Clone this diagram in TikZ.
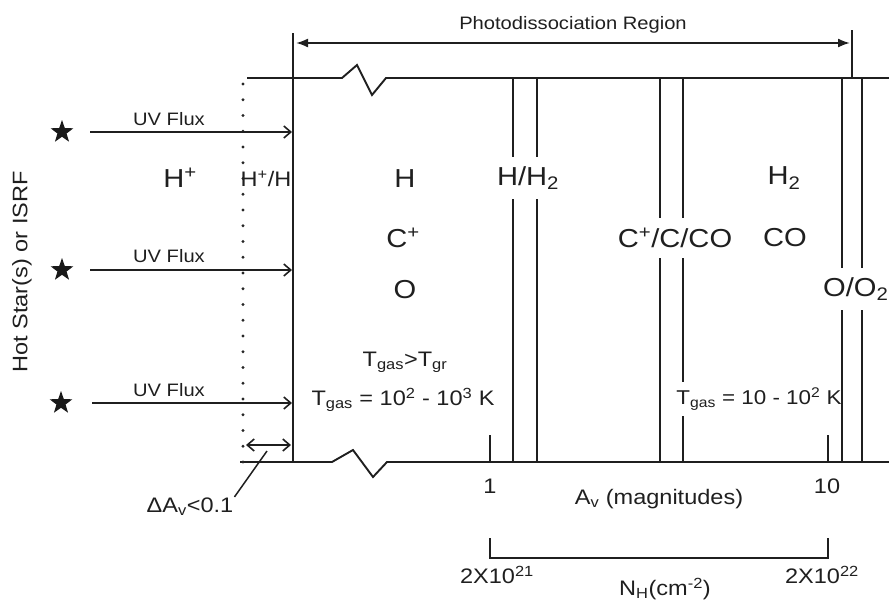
\documentclass[tikz,border=0pt]{standalone}
\usepackage{fontspec}
\setmainfont[FakeStretch=1.12]{Liberation Sans}
\usetikzlibrary{shapes.geometric,arrows.meta}
\begin{document}
\begin{tikzpicture}[x=1pt,y=-1pt,
  ln/.style={line width=1.9pt, draw=black!88},
  big/.style={font=\fontsize{26}{28}\selectfont, text=black!88, inner sep=1pt},
  mid/.style={font=\fontsize{21}{23}\selectfont, text=black!88, inner sep=1pt},
  sml/.style={font=\fontsize{18}{20}\selectfont, text=black!88, inner sep=1pt},
  cut/.style={fill=white, inner xsep=2pt, inner ysep=10pt},
  starnode/.style={star, star points=5, star point ratio=2.5, fill=black!90, inner sep=0pt, minimum size=24pt},
  barb/.style={-{Straight Barb[length=7pt,width=12pt,line width=1.6pt]}},
  dbarb/.style={{Straight Barb[length=7pt,width=12pt,line width=1.6pt]}-{Straight Barb[length=7pt,width=12pt,line width=1.6pt]}},
  dlatex/.style={{Latex[length=12pt,width=9pt]}-{Latex[length=12pt,width=9pt]}}
]
\useasboundingbox (0,0) rectangle (889,608);

% frame lines
\coordinate (mvt) at (293,33);
\coordinate (mvb) at (293,462);
\coordinate (rtt) at (852,30);
\coordinate (rtb) at (852,78);
\draw[ln] (mvt) -- (mvb);
\draw[ln] (rtt) -- (rtb);
\draw[ln] (247,78) -- (342,78) -- (357,65) -- (372,95) -- (386,78) -- (889,78);
\draw[ln] (240,462) -- (332,462) -- (353,450) -- (373,477) -- (387,462) -- (889,462);

% dotted boundary
\coordinate (dt) at (243,84);
\coordinate (db) at (243,462);
\draw[line width=3.2pt, black!85, dash pattern=on 0pt off 15.75pt, line cap=round] (dt) -- (db);

% transition bands
\draw[ln] (513,78) -- (513,462);
\draw[ln] (537,78) -- (537,462);
\draw[ln] (660,78) -- (660,462);
\draw[ln] (683,78) -- (683,462);

\node[font=\fontsize{20}{22}\selectfont, text=black!88, fill=white, inner xsep=2pt, inner ysep=5pt] (tgr) at (759,399) {T\textsubscript{gas} = 10 - 10\textsuperscript{2} K};

\draw[ln] (842,78) -- (842,462);
\draw[ln] (862,78) -- (862,462);

% ticks and bracket
\draw[ln] (490,435) -- (490,462);
\draw[ln] (828,435) -- (828,462);
\coordinate (b1t) at (490,538);
\coordinate (b1b) at (490,558);
\coordinate (b2b) at (828,558);
\coordinate (b2t) at (828,538);
\draw[ln] (b1t) -- (b1b) -- (b2b) -- (b2t);

% photodissociation arrow
\node[sml] (ph) at (573,25) {Photodissociation Region};
\coordinate (pa) at (296,43);
\coordinate (pb) at (850,43);
\draw[ln, dlatex] (pa) -- (pb);

% stars and UV arrows
\node[starnode] (s1) at (62,132) {};
\node[starnode] (s2) at (62,270) {};
\node[starnode] (s3) at (61,403) {};
\coordinate (u1a) at (90,132);  \coordinate (u1b) at (292,132);
\coordinate (u2a) at (90,270);  \coordinate (u2b) at (292,270);
\coordinate (u3a) at (92,403);  \coordinate (u3b) at (292,403);
\draw[ln, barb] (u1a) -- (u1b);
\draw[ln, barb] (u2a) -- (u2b);
\draw[ln, barb] (u3a) -- (u3b);
\node[sml] (f1) at (169,119) {UV Flux};
\node[sml] (f2) at (169,256) {UV Flux};
\node[sml] (f3) at (169,390) {UV Flux};

\node[mid, rotate=90] (hs) at (22,272) {Hot Star(s) or ISRF};

% delta A_v
\coordinate (da) at (246,445);
\coordinate (dbb) at (291,445);
\draw[ln, dbarb] (da) -- (dbb);
\node[mid] (dav) at (190,507) {ΔA\textsubscript{v}<0.1};
\coordinate (pt) at (267,451);
\draw[line width=1.5pt, black!88] (pt) -- (dav.north east);

% region labels
\node[big] (hp) at (180,178) {H\textsuperscript{+}};
\node[mid] (hph) at (266,179) {H\textsuperscript{+}/H};
\node[big] (h) at (405,179) {H};
\node[big] (cp) at (403,238) {C\textsuperscript{+}};
\node[big] (o) at (405,290) {O};
\node[mid] (tg1) at (405,362) {T\textsubscript{gas}>T\textsubscript{gr}};
\node[mid] (tg2) at (403,400) {T\textsubscript{gas} = 10\textsuperscript{2} - 10\textsuperscript{3} K};

\node[big, cut] (hh2) at (528,178) {H/H\textsubscript{2}};
\node[big, cut] (ccco) at (675,238) {C\textsuperscript{+}/C/CO};
\node[big] (h2) at (784,178) {H\textsubscript{2}};
\node[big] (co) at (785,238) {CO};
\node[big, cut, anchor=west] (oo2) at (821,289) {O/O\textsubscript{2}};

% axis labels
\node[mid] (one) at (490,486) {1};
\node[mid] (ten) at (827,486) {10};
\node[mid] (av) at (659,499) {A\textsubscript{v} (magnitudes)};
\node[mid] (n1) at (497,575) {2X10\textsuperscript{21}};
\node[mid] (n2) at (822,575) {2X10\textsuperscript{22}};
\node[mid] (nh) at (665,589) {N\textsubscript{H}(cm\textsuperscript{-2})};
\end{tikzpicture}
\end{document}
